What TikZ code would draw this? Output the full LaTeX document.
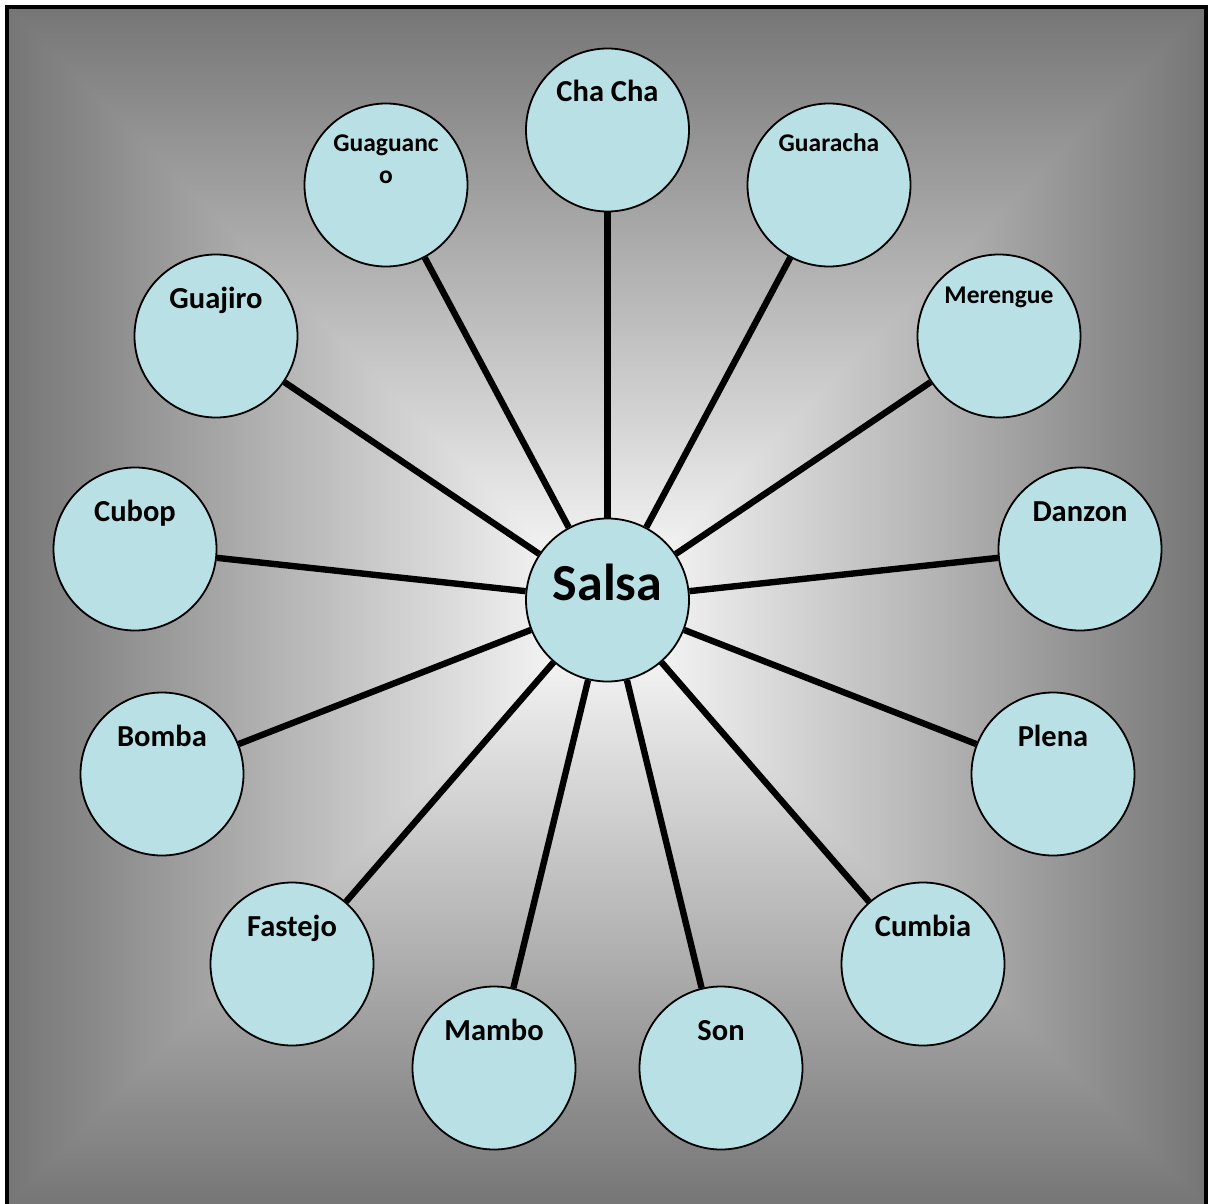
\documentclass[tikz,border=0pt]{standalone}
\usepackage{fontspec}
\setmainfont{Carlito}
\definecolor{bubblefill}{RGB}{185,224,228}
\definecolor{edgegray}{RGB}{118,118,118}
\begin{document}
\begin{tikzpicture}[x=1pt,y=-1pt,
  bubble/.style={circle, draw=black, line width=1.8pt, fill=bubblefill,
                 minimum size=163pt, inner sep=0pt},
  spoke/.style={line width=6.4pt, black},
  tag/.style={anchor=base, inner sep=0pt, font=\bfseries\fontsize{30.5}{36}\selectfont},
  smalltag/.style={anchor=base, inner sep=0pt, align=center,
                   font=\bfseries\fontsize{25.5}{31.6}\selectfont},
  bigtag/.style={anchor=base, inner sep=0pt, font=\bfseries\fontsize{52}{60}\selectfont},
]
\useasboundingbox (0,0) rectangle (1208,1204);
\clip (0,0) rectangle (1208,1204);

% square gradient: white centre fading to grey towards each edge
\shade[left color=edgegray, right color=white]
  (9,9) -- (606.5,606.5) -- (9,1204) -- cycle;
\shade[left color=white, right color=edgegray]
  (1204,9) -- (606.5,606.5) -- (1204,1204) -- cycle;
\shade[top color=edgegray, bottom color=white]
  (8,9) -- (1205,9) -- (606.5,607.5) -- cycle;
\shade[top color=white, bottom color=edgegray]
  (8,1204) -- (1205,1204) -- (606.5,605.5) -- cycle;

% frame
\draw[line width=4pt] (7,7) rectangle (1206,1216);

% hub and the thirteen styles around it
\node[bubble] (salsa)     at (607.5,600)  {};
\node[bubble] (chacha)    at (607.5,130)  {};
\node[bubble] (guaguanco) at (386,185)    {};
\node[bubble] (guaracha)  at (829,185)    {};
\node[bubble] (guajiro)   at (216,336)    {};
\node[bubble] (merengue)  at (999,336)    {};
\node[bubble] (cubop)     at (135,549)    {};
\node[bubble] (danzon)    at (1080,549)   {};
\node[bubble] (bomba)     at (162,774)    {};
\node[bubble] (plena)     at (1053,774)   {};
\node[bubble] (fastejo)   at (292,964)    {};
\node[bubble] (cumbia)    at (923,964)    {};
\node[bubble] (mambo)     at (494,1068)   {};
\node[bubble] (son)       at (721,1068)   {};

% spokes
\foreach \n in {chacha,guaguanco,guaracha,guajiro,merengue,cubop,danzon,
                bomba,plena,fastejo,cumbia,mambo,son}
  \draw[spoke] (salsa) -- (\n);

% labels
\node[bigtag]   (salsa-t)     at (salsa.center)                  {Salsa};
\node[tag]      (chacha-t)    at ([yshift=28.5pt]chacha.center)  {Cha Cha};
\node[smalltag] (guaguanco-t) at ([yshift=1.5pt]guaguanco.center) {Guaguanc\\o};
\node[smalltag] (guaracha-t)  at ([yshift=33pt]guaracha.center)  {Guaracha};
\node[tag]      (guajiro-t)   at ([yshift=28pt]guajiro.center)   {Guajiro};
\node[smalltag] (merengue-t)  at ([yshift=33pt]merengue.center)  {Merengue};
\node[tag]      (cubop-t)     at ([yshift=28pt]cubop.center)     {Cubop};
\node[tag]      (danzon-t)    at ([yshift=28pt]danzon.center)    {Danzon};
\node[tag]      (bomba-t)     at ([yshift=28pt]bomba.center)     {Bomba};
\node[tag]      (plena-t)     at ([yshift=28pt]plena.center)     {Plena};
\node[tag]      (fastejo-t)   at ([yshift=28pt]fastejo.center)   {Fastejo};
\node[tag]      (cumbia-t)    at ([yshift=28pt]cumbia.center)    {Cumbia};
\node[tag]      (mambo-t)     at ([yshift=28pt]mambo.center)     {Mambo};
\node[tag]      (son-t)       at ([yshift=28pt]son.center)       {Son};
\end{tikzpicture}
\end{document}
